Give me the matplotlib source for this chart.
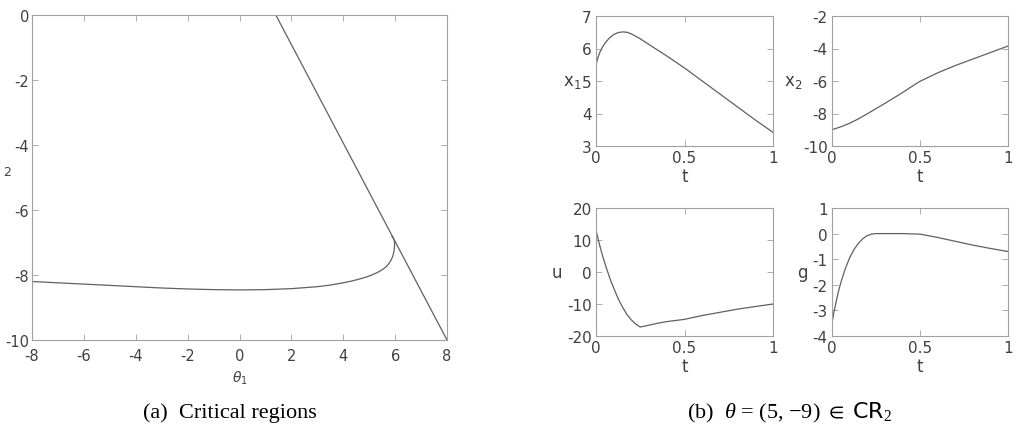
import matplotlib
matplotlib.use("Agg")
import matplotlib.pyplot as plt
import numpy as np

plt.rcParams["axes.unicode_minus"] = False
plt.rcParams["mathtext.fontset"] = "dejavusans"
plt.rcParams["mathtext.rm"] = "Liberation Serif"
plt.rcParams["mathtext.it"] = "Liberation Serif:italic"
plt.rcParams["mathtext.sf"] = "DejaVu Sans"
plt.rcParams["mathtext.fallback"] = "stix"

# ---- data ----
line_t1 = [1.4, 8.0]
line_t2 = [0.0, -10.0]
curve_t1 = [-8, -7, -6, -5, -4, -3, -2, -1, 0, 1, 2, 2.5, 3, 3.5, 4, 4.3, 4.6, 4.9, 5.1, 5.3,
            5.5, 5.65, 5.75, 5.83, 5.89, 5.93, 5.96, 5.975, 5.98, 5.975, 5.96, 5.93, 5.88]
curve_t2 = [-8.2, -8.24, -8.28, -8.32, -8.36, -8.40, -8.43, -8.45, -8.46, -8.45, -8.42, -8.39,
            -8.36, -8.31, -8.24, -8.19, -8.13, -8.06, -8.0, -7.93, -7.84, -7.75, -7.66, -7.56,
            -7.46, -7.36, -7.25, -7.15, -7.05, -6.98, -6.92, -6.87, -6.82]

t_x1 = [0, 0.01, 0.02, 0.035, 0.05, 0.075, 0.1, 0.125, 0.15, 0.175, 0.2, 0.25, 0.3, 0.4, 0.5,
        0.6, 0.7, 0.8, 0.9, 1.0]
x1 = [5.5, 5.7, 5.86, 6.03, 6.16, 6.32, 6.43, 6.49, 6.51, 6.5, 6.45, 6.3, 6.12, 5.77, 5.4,
      5.0, 4.6, 4.2, 3.8, 3.42]
t_x2 = [0, 0.05, 0.1, 0.15, 0.2, 0.25, 0.3, 0.35, 0.4, 0.45, 0.5, 0.6, 0.7, 0.8, 0.9, 1.0]
x2 = [-9.0, -8.82, -8.6, -8.33, -8.02, -7.7, -7.38, -7.05, -6.72, -6.36, -6.02, -5.5, -5.05,
      -4.65, -4.25, -3.85]
t_u = [0, 0.02, 0.04, 0.06, 0.08, 0.1, 0.125, 0.15, 0.175, 0.2, 0.225, 0.25, 0.3, 0.35, 0.4,
       0.5, 0.6, 0.7, 0.8, 0.9, 1.0]
u = [13, 8.5, 4.5, 1.0, -2.2, -5.0, -8.3, -11.0, -13.3, -15.0, -16.3, -17.2, -16.6, -16.0,
     -15.5, -14.8, -13.6, -12.6, -11.6, -10.8, -10.0]
t_g = [0, 0.01, 0.02, 0.035, 0.05, 0.075, 0.1, 0.125, 0.15, 0.175, 0.2, 0.225, 0.25, 0.3, 0.4,
       0.5, 0.6, 0.7, 0.8, 0.9, 1.0]
g = [-3.5, -3.1, -2.78, -2.3, -1.92, -1.38, -0.95, -0.62, -0.38, -0.2, -0.08, -0.02, 0.0, 0.0,
     0.0, -0.02, -0.15, -0.3, -0.45, -0.58, -0.7]

TXT = "#404040"
SPINE = "#a0a0a0"
LINE = "#606060"

fig = plt.figure(figsize=(10.21, 4.35), dpi=100)
W, H = 1021, 435

def add_ax(l, t, r, b):
    ax = fig.add_axes([l / W, 1 - b / H, (r - l) / W, (b - t) / H])
    for s in ax.spines.values():
        s.set_color(SPINE)
        s.set_linewidth(0.8)
    ax.tick_params(direction="in", top=True, right=True, colors=SPINE,
                   labelcolor=TXT, labelsize=11, length=4, width=0.6, pad=3)
    return ax

# Panel (a)
ax = add_ax(32, 16, 447, 341)
ax.plot(line_t1, line_t2, color=LINE, lw=0.9)
ax.plot(curve_t1, curve_t2, color=LINE, lw=0.9)
ax.set_xlim(-8, 8)
ax.set_ylim(-10, 0)
ax.set_xticks(range(-8, 9, 2))
ax.set_yticks(range(-10, 1, 2))
ax.tick_params(labelsize=10.5)
ax.tick_params(axis="y", pad=2)
ax.tick_params(axis="x", pad=6)
ax.set_xlabel(r"$\theta_1$", color=TXT, fontsize=10, labelpad=4, math_fontfamily="dejavusans")
fig.text(3 / W, 1 - 172 / H, "2", color=TXT, fontsize=9, va="center", ha="left")

# Panel (b)
axs = [
    (add_ax(596, 17, 773, 147), t_x1, x1, (3, 7), [3, 4, 5, 6, 7], "x$_1$"),
    (add_ax(832, 17, 1008, 147), t_x2, x2, (-10, -2), [-10, -8, -6, -4, -2], "x$_2$"),
    (add_ax(596, 209, 773, 337), t_u, u, (-20, 20), [-20, -10, 0, 10, 20], "u"),
    (add_ax(832, 209, 1008, 337), t_g, g, (-4, 1), [-4, -3, -2, -1, 0, 1], "g"),
]
for a, tx, ty, yl, yt, lab in axs:
    a.plot(tx, ty, color=LINE, lw=0.9)
    a.set_xlim(0, 1)
    a.set_ylim(*yl)
    a.set_xticks([0, 0.5, 1])
    a.set_xticklabels(["0", "0.5", "1"])
    a.set_yticks(yt)
    a.set_xlabel("t", color=TXT, fontsize=12, labelpad=1)
    a.set_ylabel(lab, color=TXT, fontsize=12, rotation=0, labelpad=7, va="center",
                 math_fontfamily="dejavusans")

fig.text(790 / W, 1 - 413 / H, r"(b)  $\mathit{\theta}$ = (5, $-$9) $\in$ $\mathsf{CR}_2$",
         family="Liberation Serif", fontsize=16, ha="center", va="center", color="black",
         math_fontfamily="custom")
fig.text(230 / W, 1 - 413 / H, "(a)  Critical regions", family="Liberation Serif",
         fontsize=16, ha="center", va="center", color="black")

fig.savefig("out.png", dpi=100)
